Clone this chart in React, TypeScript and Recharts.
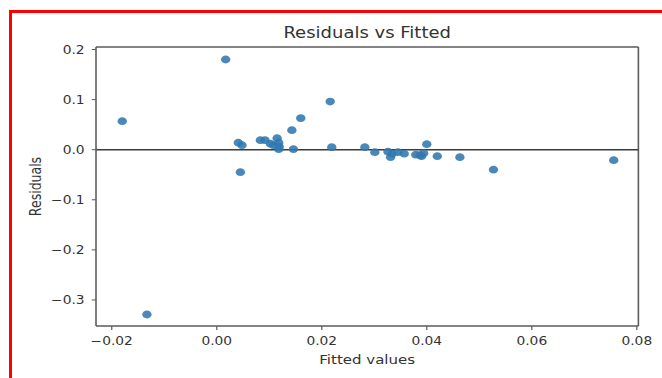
import React from 'react';
import {
  ScatterChart, Scatter, XAxis, YAxis, ReferenceLine,
} from 'recharts';

// fitted values and residuals
const fitted = [
  -0.018, -0.0133, 0.0017, 0.0041, 0.0045, 0.0048, 0.0083, 0.0092, 0.0102, 0.0108,
  0.0115, 0.0118, 0.0119, 0.0118, 0.0143, 0.0146, 0.016, 0.0216, 0.0219, 0.0282,
  0.0301, 0.0326, 0.0331, 0.0334, 0.0345, 0.0357, 0.0379, 0.0387, 0.039, 0.0394,
  0.04, 0.042, 0.0463, 0.0527, 0.0756,
];
const residuals = [
  0.057, -0.329, 0.18, 0.014, -0.045, 0.009, 0.019, 0.019, 0.012, 0.009,
  0.023, 0.014, 0.006, 0.001, 0.039, 0.001, 0.063, 0.096, 0.005, 0.005,
  -0.005, -0.004, -0.015, -0.008, -0.005, -0.008, -0.01, -0.011, -0.013, -0.007,
  0.011, -0.013, -0.015, -0.04, -0.021,
];

const xTicks = [-0.02, 0, 0.02, 0.04, 0.06, 0.08];
const yTicks = [-0.3, -0.2, -0.1, 0, 0.1, 0.2];
const xDomain: [number, number] = [-0.023, 0.0803];
const yDomain: [number, number] = [-0.352, 0.205];

const points = fitted.map((x, i) => ({ x, y: residuals[i] }));

const minus = (s: string) => s.replace('-', '\u2212');
const fmtX = (v: number) => minus(v.toFixed(2));
const fmtY = (v: number) => minus(v.toFixed(1));

const FONT = '"DejaVu Sans", sans-serif';
const INK = '#333';
const SPINE = '#5a5a5a';

// the reference is stretched sideways by about 1.2, so the chart is drawn narrower and scaled
const SX = 1.2;
const W = 551;
const H = 378;

const Dot = (props: any) => (
  <circle cx={props.cx} cy={props.cy} r={3.9} fill="#3178b0" fillOpacity={0.88} />
);

export default function App() {
  return (
    <div style={{ position: 'absolute', left: 0, top: 0, width: 662, height: 378, overflow: 'hidden', background: '#fff' }}>
      {/* red frame round the figure */}
      <div style={{ position: 'absolute', left: 9, top: 10, width: 700, height: 400, borderLeft: '3px solid #f00', borderTop: '3px solid #f00' }} />
      <div style={{ position: 'absolute', left: 0, top: 0, width: W, height: H, transform: `scaleX(${SX})`, transformOrigin: '0 0' }}>
        <div style={{ position: 'absolute', left: 80, width: 452, top: 25, textAlign: 'center', fontFamily: FONT, fontSize: 15, lineHeight: '17px', color: INK }}>
          Residuals vs Fitted
        </div>
        <ScatterChart width={W} height={H} margin={{ top: 47, right: 19, bottom: 12, left: 0 }}>
          <XAxis
            type="number" dataKey="x" domain={xDomain} ticks={xTicks} allowDataOverflow
            tickFormatter={fmtX} interval={0}
            height={40} tickSize={4} tickMargin={6.5}
            axisLine={{ stroke: SPINE, strokeWidth: 1.3 }} tickLine={{ stroke: SPINE }}
            tick={{ fill: INK, fontSize: 11.5, fontFamily: FONT }}
            label={{ value: 'Fitted values', position: 'insideBottom', offset: 2, fill: INK, fontSize: 12.5, fontFamily: FONT }}
          />
          <YAxis
            type="number" dataKey="y" domain={yDomain} ticks={yTicks} allowDataOverflow
            tickFormatter={fmtY} interval={0}
            width={80} tickSize={3.5} tickMargin={6}
            axisLine={{ stroke: SPINE, strokeWidth: 1.3 }} tickLine={{ stroke: SPINE }}
            tick={{ fill: INK, fontSize: 11.5, fontFamily: FONT }}
            label={{ value: 'Residuals', angle: -90, position: 'insideLeft', offset: 30, fill: INK, fontSize: 12.5, fontFamily: FONT, style: { textAnchor: 'middle' } }}
          />
          {/* top and right spines */}
          <ReferenceLine y={yDomain[1]} stroke={SPINE} strokeWidth={1.3} />
          <ReferenceLine x={xDomain[1]} stroke={SPINE} strokeWidth={1.3} />
          <ReferenceLine y={0} stroke="#3a3a3a" strokeWidth={1.6} />
          <Scatter data={points} shape={Dot} isAnimationActive={false} />
        </ScatterChart>
      </div>
    </div>
  );
}
